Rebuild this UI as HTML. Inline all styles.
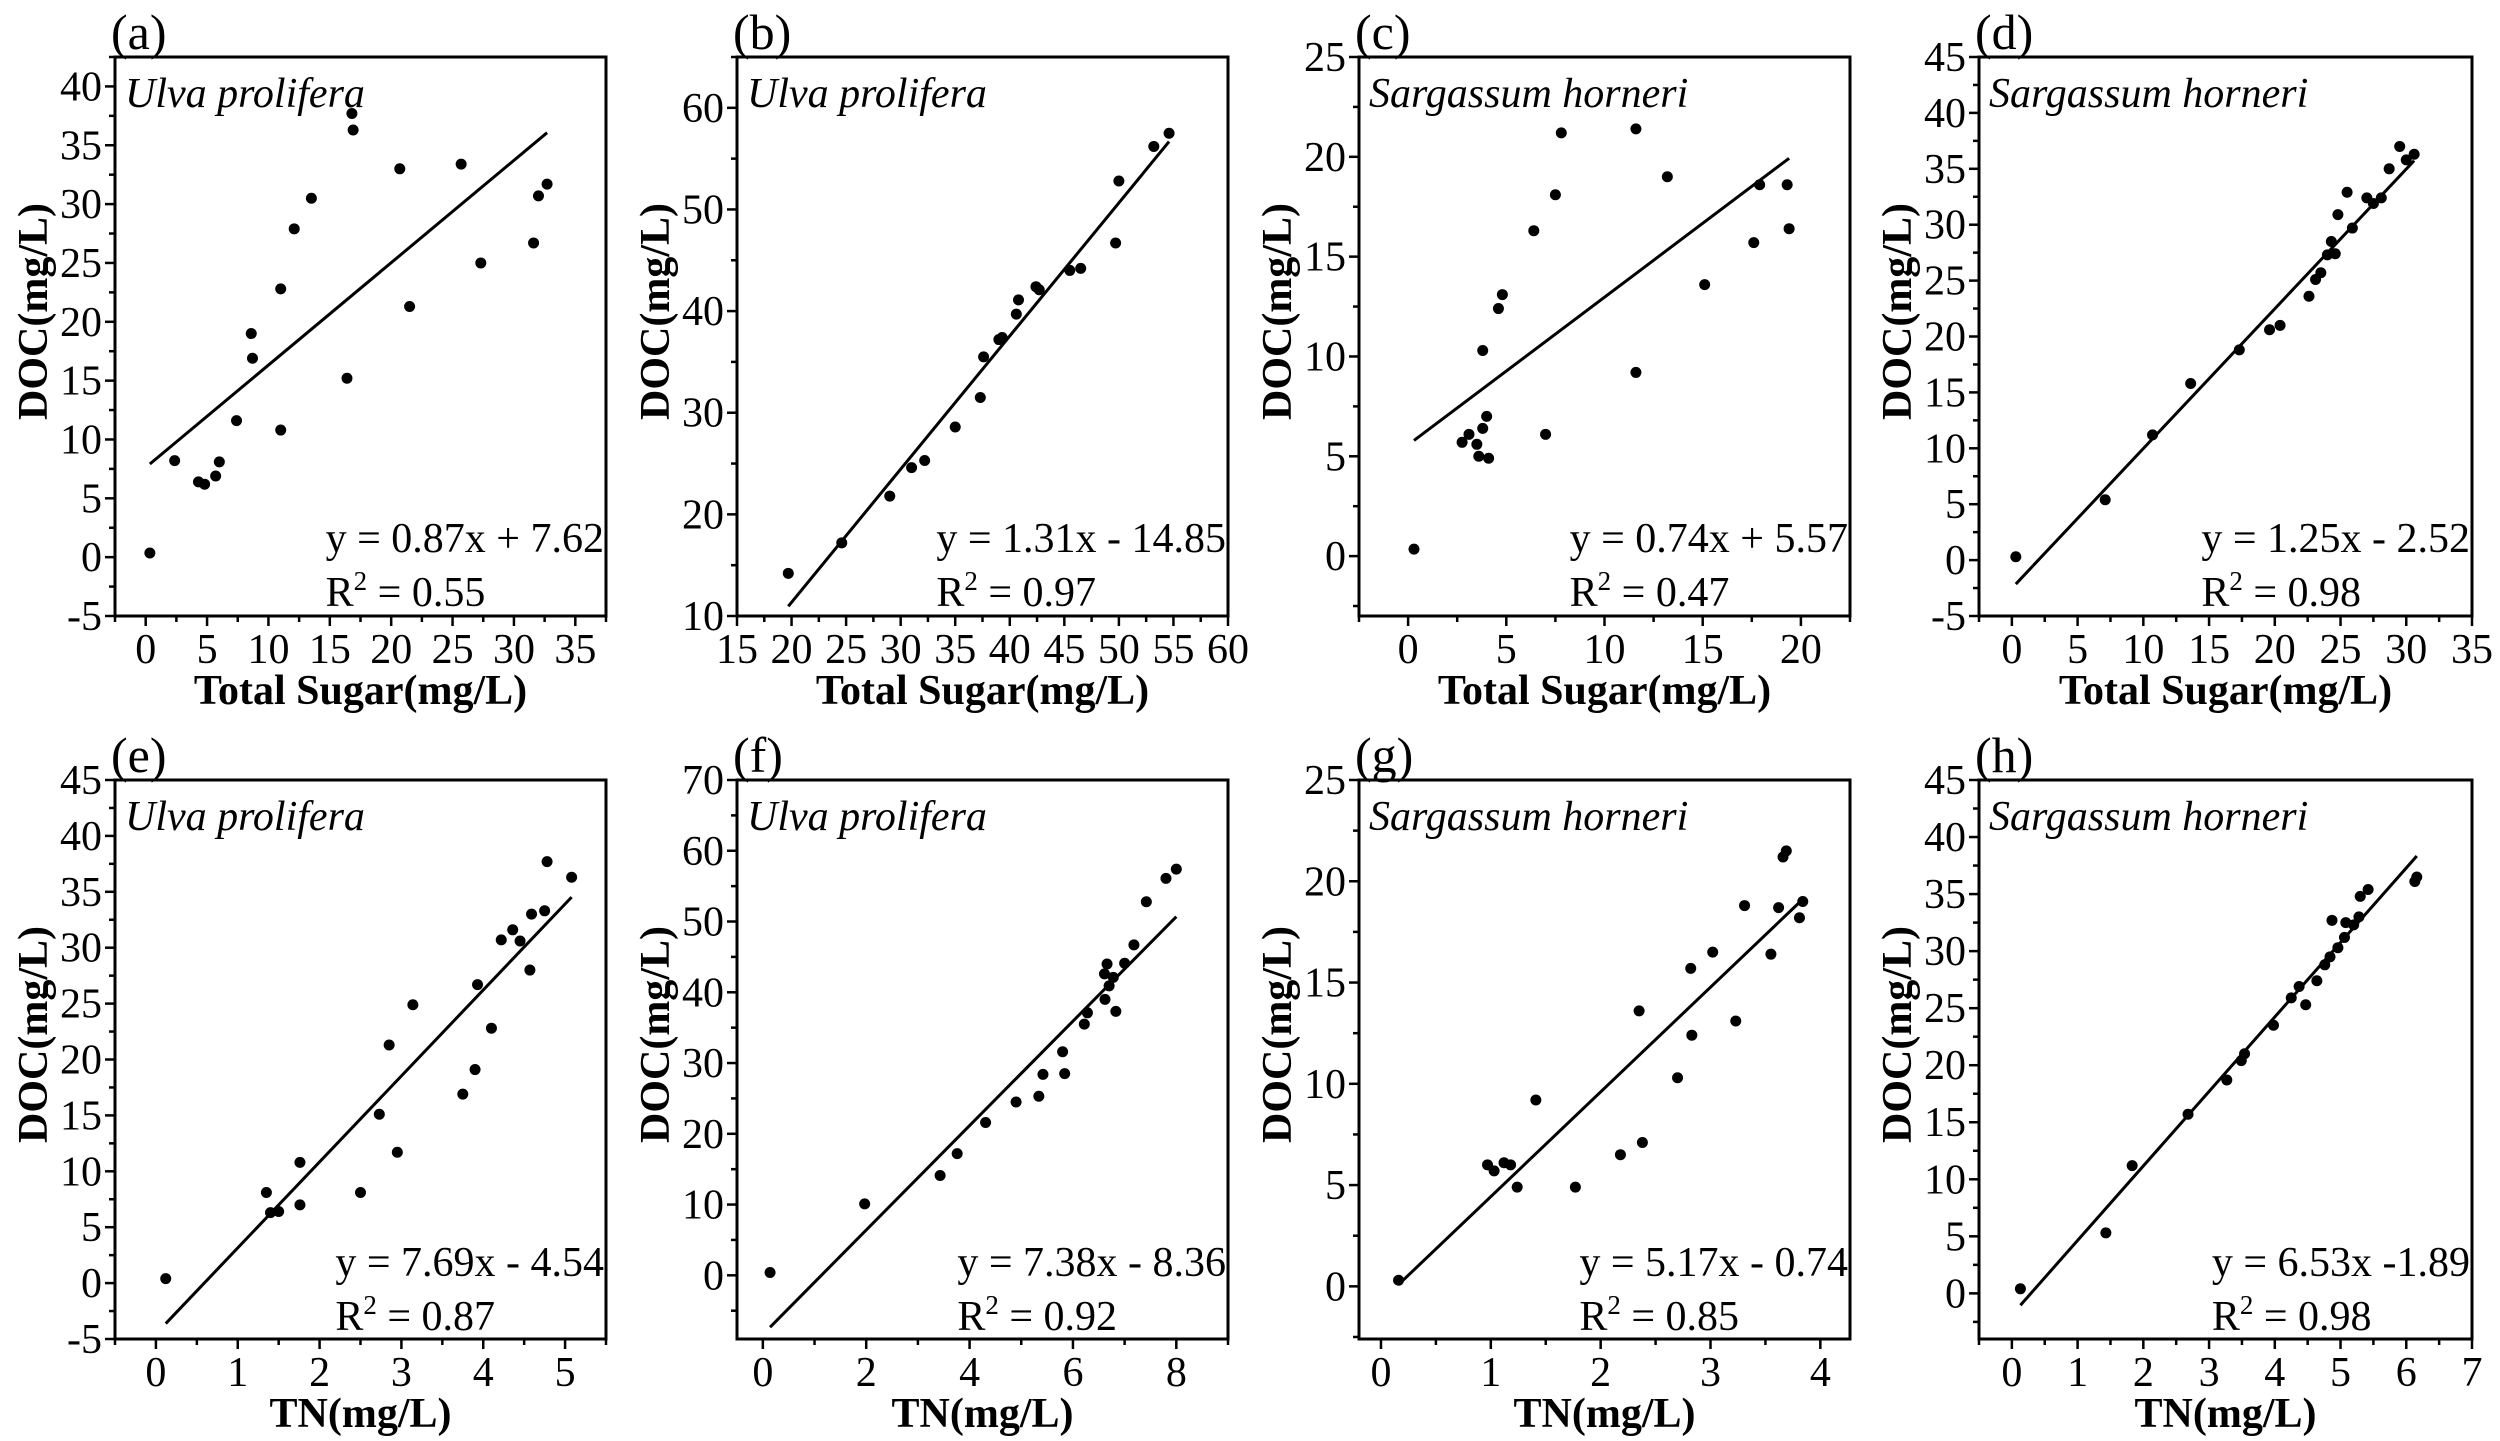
<!DOCTYPE html>
<html><head><meta charset="utf-8"><style>
html,body{margin:0;padding:0;background:#fff;}
svg{display:block;font-family:"Liberation Serif","Times New Roman","DejaVu Serif",serif;}
svg text{font-family:"Liberation Serif","Times New Roman","DejaVu Serif",serif;fill:#000;}
</style></head><body>
<svg id="fig" width="2500" height="1441" viewBox="0 0 2500 1441" xmlns="http://www.w3.org/2000/svg"></svg>
<script>
// ---- data ----
const aX=[0.34,2.36,4.3,4.8,5.7,6.0,7.4,11.0,8.6,8.7,11.0,12.1,13.5,16.4,16.8,16.9,20.7,21.5,25.7,27.3,31.6,32.0,32.7];
const aY=[0.35,8.2,6.4,6.2,6.9,8.1,11.6,10.8,19.0,16.9,22.8,27.9,30.5,15.2,37.7,36.3,33.0,21.3,33.4,25.0,26.7,30.7,31.7];
const bX=[19.7,24.6,29,31,32.2,35,37.3,37.6,39,39.3,40.6,40.8,42.4,42.7,45.5,46.5,49.7,50.0,53.2,54.6];
const bY=[14.2,17.2,21.8,24.6,25.3,28.6,31.5,35.5,37.2,37.4,39.7,41.1,42.4,42.1,44.0,44.2,46.7,52.8,56.2,57.5];
const cX=[0.3,2.75,3.1,3.5,3.6,4.1,3.8,4.0,3.8,4.6,4.8,6.4,7.5,7.8,7.0,11.6,11.6,13.2,15.1,17.6,17.9,19.3,19.4];
const cY=[0.35,5.7,6.1,5.6,5.0,4.9,6.4,7.0,10.3,12.4,13.1,16.3,18.1,21.2,6.1,9.2,21.4,19.0,13.6,15.7,18.6,18.6,16.4];
const dX=[0.3,7.1,10.7,13.6,17.3,19.6,20.4,22.6,23.1,23.5,24.0,24.3,24.6,24.8,25.5,25.9,27,27.5,28.1,28.7,29.5,30,30.6];
const dY=[0.3,5.4,11.2,15.8,18.8,20.6,21.0,23.6,25.1,25.7,27.3,28.5,27.4,30.9,32.9,29.7,32.4,31.9,32.4,35.0,37.0,35.8,36.3];
const eX=[0.12,1.35,1.4,1.5,1.76,1.76,2.5,2.73,2.85,2.95,3.14,3.75,3.9,3.93,4.1,4.22,4.36,4.45,4.57,4.59,4.75,4.78,5.08];
const eY=[0.4,8.1,6.3,6.4,10.8,7.0,8.1,15.1,21.3,11.7,24.9,16.9,19.1,26.7,22.8,30.7,31.6,30.6,28.0,33.0,33.3,37.7,36.3];
const fX=[0.14,1.97,3.43,3.76,4.31,4.9,5.34,5.42,5.8,5.84,6.22,6.28,6.61,6.62,6.66,6.7,6.78,6.83,7.0,7.18,7.42,7.8,8.0];
const fY=[0.4,10.1,14.1,17.2,21.6,24.5,25.3,28.4,31.6,28.5,35.5,37.1,42.6,39.0,44.0,40.9,42.1,37.3,44.1,46.7,52.8,56.1,57.4];
const gX=[0.16,0.97,1.03,1.12,1.18,1.24,1.41,1.77,2.18,2.38,2.35,2.7,2.83,2.82,3.02,3.23,3.31,3.55,3.62,3.66,3.69,3.81,3.84];
const gY=[0.3,6.0,5.7,6.1,6.0,4.9,9.2,4.9,6.5,7.1,13.6,10.3,12.4,15.7,16.5,13.1,18.8,16.4,18.7,21.2,21.5,18.2,19.0];
const hX=[0.13,1.43,1.83,2.68,3.27,3.49,3.54,3.98,4.25,4.37,4.47,4.64,4.76,4.84,4.87,4.96,5.06,5.08,5.2,5.28,5.3,5.42,6.13,6.16];
const hY=[0.4,5.3,11.2,15.7,18.7,20.4,21.0,23.5,25.9,26.9,25.3,27.4,28.8,29.5,32.7,30.3,31.2,32.5,32.3,33.0,34.8,35.4,36.1,36.5];
const slopes=[0.87,1.31,0.74,1.25,7.69,7.38,5.17,6.53];
const intercepts=[7.62,-14.85,5.57,-2.52,-4.54,-8.36,-0.74,-1.89];
const eqLabels=["y = 0.87x + 7.62","y = 1.31x - 14.85","y = 0.74x + 5.57","y = 1.25x - 2.52","y = 7.69x - 4.54","y = 7.38x - 8.36","y = 5.17x - 0.74","y = 6.53x -1.89"];
const r2Labels=["0.55","0.97","0.47","0.98","0.87","0.92","0.85","0.98"];
const panelLabels=["(a)","(b)","(c)","(d)","(e)","(f)","(g)","(h)"];
const species=["Ulva prolifera","Ulva prolifera","Sargassum horneri","Sargassum horneri","Ulva prolifera","Ulva prolifera","Sargassum horneri","Sargassum horneri"];
const xTitles=["Total Sugar(mg/L)","Total Sugar(mg/L)","Total Sugar(mg/L)","Total Sugar(mg/L)","TN(mg/L)","TN(mg/L)","TN(mg/L)","TN(mg/L)"];
const xDomains=[[-2.5,37.5],[15,60],[-2.5,22.5],[-2.5,35],[-0.5,5.5],[-0.5,9],[-0.2,4.27],[-0.5,7]];
const yDomains=[[-5,42.5],[10,65],[-3,25],[-5,45],[-5,45],[-9,70],[-2.6,25],[-4,45]];
const xTickVals=[[0,5,10,15,20,25,30,35],[15,20,25,30,35,40,45,50,55,60],[0,5,10,15,20],[0,5,10,15,20,25,30,35],[0,1,2,3,4,5],[0,2,4,6,8],[0,1,2,3,4],[0,1,2,3,4,5,6,7]];
const yTickVals=[[-5,0,5,10,15,20,25,30,35,40],[10,20,30,40,50,60],[0,5,10,15,20,25],[-5,0,5,10,15,20,25,30,35,40,45],[-5,0,5,10,15,20,25,30,35,40,45],[0,10,20,30,40,50,60,70],[0,5,10,15,20,25],[0,5,10,15,20,25,30,35,40,45]];
const seriesX=[aX,bX,cX,dX,eX,fX,gX,hX];
const seriesY=[aY,bY,cY,dY,eY,fY,gY,hY];

// ---- layout ----
const colL=[115,737,1359,1979], colR=[606,1228,1850,2472];
const rowT=[57,780], rowB=[616,1339];
const NS="http://www.w3.org/2000/svg";
const svg=document.getElementById('fig');
function mk(tag,attrs,parent){const e=document.createElementNS(NS,tag);for(const k in attrs)e.setAttribute(k,attrs[k]);parent.appendChild(e);return e;}

for(let p=0;p<8;p++){
  const col=p%4,row=Math.floor(p/4);
  const L=colL[col],R=colR[col],T=rowT[row],B=rowB[row];
  const xd=xDomains[p],yd=yDomains[p];
  const sx=v=>L+(v-xd[0])/(xd[1]-xd[0])*(R-L);
  const sy=v=>B-(v-yd[0])/(yd[1]-yd[0])*(B-T);
  const g=mk('g',{},svg);
  
  
  const fr=mk('rect',{x:L,y:T,width:R-L,height:B-T,fill:'none',stroke:'#000','stroke-width':3},g);
  
  
  const xt=xTickVals[p], xstep=xt[1]-xt[0];
  for(let v=xt[0]-xstep;v<=xt[xt.length-1]+xstep+1e-9;v+=xstep/2){
    if(v<xd[0]-1e-9||v>xd[1]+1e-9)continue;
    const major=xt.some(t=>Math.abs(t-v)<1e-9);
    const tk=mk('line',{x1:sx(v),x2:sx(v),y1:B,y2:B+(major?10:6),stroke:'#000','stroke-width':2.5},g);
    
    
  }
  xt.forEach(v=>{
    const t=mk('text',{x:sx(v),y:B+47,'font-size':42,'text-anchor':'middle'},g);
    t.textContent=v;
    
    
  });
  const yt=yTickVals[p], ystep=yt[1]-yt[0];
  for(let v=yt[0]-ystep;v<=yt[yt.length-1]+ystep+1e-9;v+=ystep/2){
    if(v<yd[0]-1e-9||v>yd[1]+1e-9)continue;
    const major=yt.some(t=>Math.abs(t-v)<1e-9);
    const tk=mk('line',{x1:L,x2:L-(major?10:6),y1:sy(v),y2:sy(v),stroke:'#000','stroke-width':2.5},g);
    
    
  }
  yt.forEach(v=>{
    const t=mk('text',{x:L-13,y:sy(v)+14,'font-size':42,'text-anchor':'end'},g);
    t.textContent=v;
    
    
  });
  const xtl=mk('text',{x:(L+R)/2,y:B+88,'font-size':42,'font-weight':'bold','text-anchor':'middle'},g);
  xtl.textContent=xTitles[p];
  
  
  const cy=(T+B)/2-25, cx=L-82;
  const ytl=mk('text',{x:cx,y:cy,'font-size':42,'font-weight':'bold','text-anchor':'middle',transform:`rotate(-90 ${cx} ${cy}) translate(0 14)`},g);
  ytl.textContent='DOC(mg/L)';
  
  
  const pl=mk('text',{x:L-4,y:T-8,'font-size':50},g);
  pl.textContent=panelLabels[p];
  
  
  const sp=mk('text',{x:L+10,y:T+50,'font-size':42,'font-style':'italic'},g);
  sp.textContent=species[p];
  
  
  const xs=seriesX[p], ys=seriesY[p];
  const xmin=Math.min(...xs), xmax=Math.max(...xs);
  const ln=mk('line',{x1:sx(xmin),y1:sy(slopes[p]*xmin+intercepts[p]),x2:sx(xmax),y2:sy(slopes[p]*xmax+intercepts[p]),stroke:'#000','stroke-width':3},g);
  
  
  xs.forEach((x,i)=>{
    const c=mk('circle',{cx:sx(x),cy:sy(ys[i]),r:5.5,fill:'#000'},g);
    
    
  });
  const eqy=row===0?552:1276;
  const eq=mk('text',{x:R-2,y:eqy,'font-size':42,'text-anchor':'end'},g);
  eq.textContent=eqLabels[p];
  
  
  const left=R-2-eq.getComputedTextLength();
  const r2=mk('text',{x:left,y:eqy+54,'font-size':42},g);
  
  
  const t1=mk('tspan',{},r2); t1.textContent='R';
  const t2=mk('tspan',{dy:-16,'font-size':27},r2); t2.textContent='2';
  const t3=mk('tspan',{dy:16},r2); t3.textContent=' = '+r2Labels[p];
}
</script>
</body></html>
